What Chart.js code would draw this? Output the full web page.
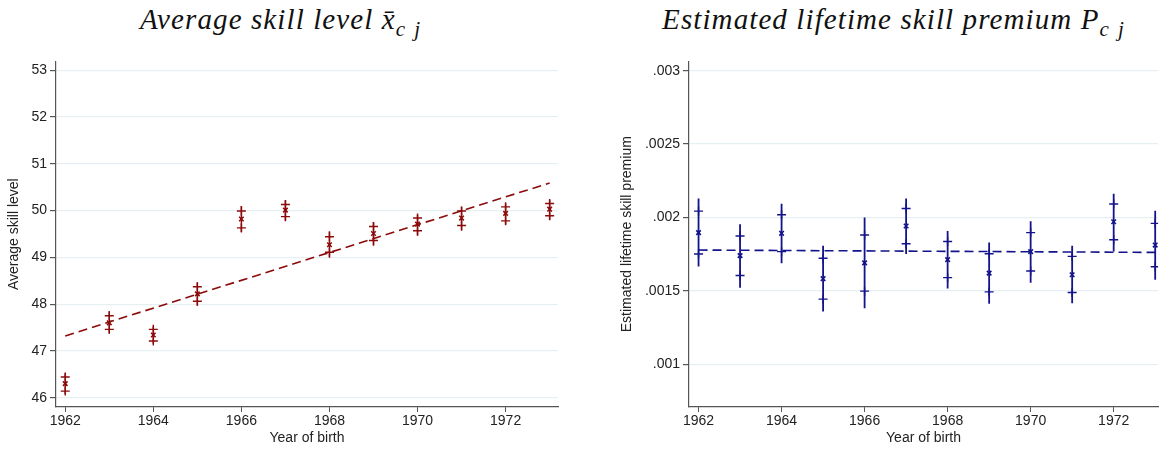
<!DOCTYPE html>
<html>
<head>
<meta charset="utf-8">
<script src="https://cdn.jsdelivr.net/npm/chart.js@4.4.1/dist/chart.umd.min.js"></script>
<style>
    body { margin: 0; background: #fff; width: 1164px; height: 450px; overflow: hidden; position: relative; }
    .ttl { position: absolute; top: 3px; font-family: "Liberation Serif", "Times New Roman", serif; font-style: italic;
           font-size: 29px; letter-spacing: 1.1px; color: #111; white-space: nowrap; transform: translateX(-50%); }
    .ttl sub { font-size: 21px; vertical-align: -7px; letter-spacing: 2px; }
    canvas { position: absolute; top: 50px; }
</style>
</head>
<body>
<div class="ttl" style="left:281px">Average skill level x&#772;<sub>c j</sub></div>
<div class="ttl" style="left:894px">Estimated lifetime skill premium P<sub>c j</sub></div>
<canvas id="skillChart" width="580" height="400" style="left:0"></canvas>
<canvas id="premiumChart" width="564" height="400" style="left:600px"></canvas>
<script>
let years = [1962, 1963, 1964, 1965, 1966, 1967, 1968, 1969, 1970, 1971, 1972, 1973]
let xTicks = [1962, 1964, 1966, 1968, 1970, 1972]
let fitYears = [1962, 1973]

// left panel: average skill level
let skillMean = [46.30, 47.60, 47.34, 48.22, 49.82, 50.01, 49.27, 49.51, 49.71, 49.84, 49.94, 50.03]
let skillHi = [46.44, 47.75, 47.46, 48.37, 49.99, 50.13, 49.44, 49.66, 49.84, 49.99, 50.08, 50.15]
let skillLo = [46.14, 47.46, 47.21, 48.06, 49.63, 49.87, 49.11, 49.36, 49.57, 49.68, 49.78, 49.89]
let skillTop = [46.52, 47.85, 47.52, 48.46, 50.10, 50.22, 49.56, 49.75, 49.91, 50.08, 50.15, 50.23]
let skillBot = [46.07, 47.37, 47.15, 47.97, 49.54, 49.78, 48.99, 49.25, 49.46, 49.57, 49.70, 49.80]
let skillFit = [47.32, 50.59]
let skillTicks = [46, 47, 48, 49, 50, 51, 52, 53]

// right panel: estimated lifetime skill premium
let premMean = [0.001897, 0.001740, 0.001892, 0.001583, 0.001691, 0.001942, 0.001713, 0.001621, 0.001767, 0.001610, 0.001971, 0.001812]
let premHi = [0.002043, 0.001874, 0.002018, 0.001722, 0.001881, 0.002061, 0.001836, 0.001753, 0.001897, 0.001735, 0.002092, 0.001960]
let premLo = [0.001751, 0.001605, 0.001767, 0.001444, 0.001498, 0.001821, 0.001590, 0.001493, 0.001635, 0.001489, 0.001848, 0.001664]
let premTop = [0.002130, 0.001953, 0.002094, 0.001807, 0.002000, 0.002130, 0.001908, 0.001830, 0.001975, 0.001807, 0.002161, 0.002045]
let premBot = [0.001666, 0.001522, 0.001688, 0.001359, 0.001381, 0.001751, 0.001516, 0.001413, 0.001556, 0.001415, 0.001769, 0.001576]
let premFit = [0.001778, 0.001762]
let premTicks = [0.001, 0.0015, 0.002, 0.0025, 0.003]
let premTickLabels = ['.001', '.0015', '.002', '.0025', '.003']

Chart.defaults.font.family = '"Liberation Sans", Arial, sans-serif'
Chart.defaults.font.size = 14
Chart.defaults.color = '#222'

let points = (ys) => years.map((x, i) => ({x: x, y: ys[i]}))

// vertical spikes, one segment per year, broken by null gaps
let spikes = (lo, hi) => {
    let out = []
    years.forEach((x, i) => {
        out.push({x: x, y: lo[i]}, {x: x, y: hi[i]}, {x: x, y: null})
    })
    return out
}

let buildChart = (canvasId, cfg) => {
    let ctx = document.getElementById(canvasId).getContext('2d')
    return new Chart(ctx, {
        type: 'scatter',
        data: {
            datasets: [{
                type: 'line',
                data: fitYears.map((x, i) => ({x: x, y: cfg.fit[i]})),
                borderColor: cfg.color,
                borderWidth: 1.6,
                borderDash: [9, 5],
                pointRadius: 0,
                fill: false
            }, {
                type: 'line',
                data: spikes(cfg.bot, cfg.top),
                borderColor: cfg.color,
                borderWidth: cfg.spikeWidth,
                pointRadius: 0,
                spanGaps: false,
                fill: false
            }, {
                data: points(cfg.hi),
                pointStyle: 'cross',
                pointRadius: 4.5,
                borderWidth: 1.4,
                borderColor: cfg.color
            }, {
                data: points(cfg.lo),
                pointStyle: 'cross',
                pointRadius: 4.5,
                borderWidth: 1.4,
                borderColor: cfg.color
            }, {
                data: points(cfg.mean),
                pointStyle: 'crossRot',
                pointRadius: 3.2,
                borderWidth: 1.6,
                borderColor: cfg.color
            }]
        },
        options: {
            responsive: false,
            animation: false,
            events: [],
            layout: {padding: {top: 7, right: cfg.padRight, left: 0, bottom: 0}},
            plugins: {legend: {display: false}, tooltip: {enabled: false}},
            scales: {
                x: {
                    type: 'linear',
                    min: cfg.xMin,
                    max: cfg.xMax,
                    afterBuildTicks: (scale) => { scale.ticks = xTicks.map(v => ({value: v})) },
                    afterFit: (scale) => { scale.height = 43 },
                    ticks: {padding: 1, maxRotation: 0, callback: (v) => String(v)},
                    grid: {drawOnChartArea: false, drawTicks: true, tickLength: 5, tickColor: '#555'},
                    border: {color: '#555', width: 1.2},
                    title: {display: true, text: 'Year of birth', padding: {top: 0, bottom: 3}}
                },
                y: {
                    type: 'linear',
                    min: cfg.yMin,
                    max: cfg.yMax,
                    afterBuildTicks: (scale) => { scale.ticks = cfg.yTicks.map(v => ({value: v})) },
                    afterFit: (scale) => { scale.width = cfg.yWidth },
                    ticks: {padding: 3, callback: cfg.yLabel},
                    grid: {color: '#e6eff1', lineWidth: 1.2, tickLength: 6, tickColor: '#555'},
                    border: {color: '#555', width: 1.2},
                    title: {display: true, text: cfg.yTitle, padding: {top: cfg.yTitlePad, bottom: 0}}
                }
            }
        }
    })
}

buildChart('skillChart', {
    color: '#8b0a0a',
    spikeWidth: 1.5,
    mean: skillMean, hi: skillHi, lo: skillLo, top: skillTop, bot: skillBot, fit: skillFit,
    xMin: 1961.79, xMax: 1973.19,
    yMin: 45.8, yMax: 53.19,
    yTicks: skillTicks,
    yLabel: (v) => String(v),
    yWidth: 56,
    padRight: 22,
    yTitle: 'Average skill level',
    yTitlePad: 6
})

buildChart('premiumChart', {
    color: '#13138a',
    spikeWidth: 1.8,
    mean: premMean, hi: premHi, lo: premLo, top: premTop, bot: premBot, fit: premFit,
    xMin: 1961.77, xMax: 1973.07,
    yMin: 0.000709, yMax: 0.003063,
    yTicks: premTicks,
    yLabel: (v) => premTickLabels[premTicks.indexOf(v)],
    yWidth: 89,
    padRight: 0,
    yTitle: 'Estimated lifetime skill premium',
    yTitlePad: 19
})
</script>
</body>
</html>
